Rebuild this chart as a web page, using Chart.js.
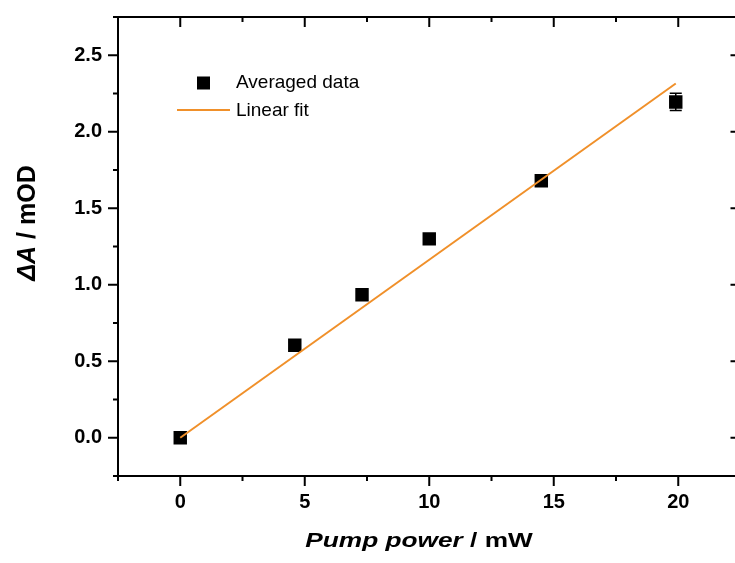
<!DOCTYPE html>
<html>
<head>
<meta charset="utf-8">
<script src="https://cdn.jsdelivr.net/npm/chart.js@4/dist/chart.umd.min.js"></script>
<style>
  html, body { margin: 0; padding: 0; overflow: hidden; background: #fff; }
  canvas { display: block; }
</style>
</head>
<body>
<canvas id="myChart" width="750" height="563" style="width:750px;height:563px"></canvas>
<script>
// averaged data (pump power in mW, delta A in mOD, error)
const power = [0, 4.6, 7.3, 10, 14.5, 19.9];
const deltaA = [0, 0.605, 0.935, 1.30, 1.68, 2.195];
const deltaAErr = [0.01, 0.02, 0.02, 0.03, 0.03, 0.056];

// linear fit line
const fitX = [0, 19.9];
const fitY = [0, 2.315];

// tick labels
const xTicks = [0, 5, 10, 15, 20];
const yTicks = [0, 0.5, 1.0, 1.5, 2.0, 2.5];

const FONT = "'Liberation Sans', Arial, sans-serif";
const ORANGE = '#f0902a';

// draw text pieces with different fonts one after another
function drawParts(ctx, parts, sx) {
    let total = 0;
    parts.forEach(p => { ctx.font = p[0]; total += ctx.measureText(p[1]).width; });
    ctx.scale(sx, 1);
    let pos = -total / 2;
    parts.forEach(p => {
        ctx.font = p[0];
        ctx.fillText(p[1], pos, 0);
        pos += ctx.measureText(p[1]).width;
    });
}

const framePlugin = {
    id: 'frame',
    beforeDatasetsDraw(chart) {
        const ctx = chart.ctx;
        const x = chart.scales.x, y = chart.scales.y;
        ctx.save();
        ctx.strokeStyle = '#000';
        ctx.lineWidth = 1.5;
        power.forEach((p, i) => {
            const px = x.getPixelForValue(p);
            const top = y.getPixelForValue(deltaA[i] + deltaAErr[i]);
            const bot = y.getPixelForValue(deltaA[i] - deltaAErr[i]);
            ctx.beginPath();
            ctx.moveTo(px, top); ctx.lineTo(px, bot);
            ctx.moveTo(px - 6, top); ctx.lineTo(px + 6, top);
            ctx.moveTo(px - 6, bot); ctx.lineTo(px + 6, bot);
            ctx.stroke();
        });
        ctx.restore();
    },
    afterDraw(chart) {
        const ctx = chart.ctx;
        const a = chart.chartArea;
        const x = chart.scales.x, y = chart.scales.y;
        ctx.save();
        ctx.strokeStyle = '#000';
        ctx.lineWidth = 2;
        ctx.strokeRect(a.left, a.top, a.right - a.left, a.bottom - a.top);

        // x ticks: outward at bottom, inward at top
        for (let v = x.min; v <= x.max + 1e-9; v += 2.5) {
            const px = x.getPixelForValue(v);
            const len = xTicks.includes(v) ? 10 : 5;
            ctx.beginPath();
            ctx.moveTo(px, a.bottom); ctx.lineTo(px, a.bottom + len);
            ctx.moveTo(px, a.top); ctx.lineTo(px, a.top + len);
            ctx.stroke();
        }
        // y ticks: outward at left, inward at right
        for (let v = y.min; v <= y.max + 1e-9; v += 0.25) {
            const py = y.getPixelForValue(v);
            const len = yTicks.includes(v) ? 10 : 5;
            ctx.beginPath();
            ctx.moveTo(a.left, py); ctx.lineTo(a.left - len, py);
            ctx.moveTo(a.right, py); ctx.lineTo(a.right - len, py);
            ctx.stroke();
        }

        // axis titles
        ctx.fillStyle = '#000';
        ctx.textBaseline = 'alphabetic';
        ctx.save();
        ctx.translate(419, 547);
        drawParts(ctx, [['italic bold 21px ' + FONT, 'Pump power'], ['bold 21px ' + FONT, ' / mW']], 1.25);
        ctx.restore();

        ctx.save();
        ctx.translate(35, 223);
        ctx.rotate(-Math.PI / 2);
        drawParts(ctx, [['italic bold 25px ' + FONT, '\u0394A'], ['bold 25px ' + FONT, ' / mOD']], 1);
        ctx.restore();

        // legend
        const ds = chart.data.datasets;
        ctx.font = '19px ' + FONT;
        ctx.textBaseline = 'middle';
        ctx.fillStyle = '#000';
        ctx.fillRect(197, 76.5, 13, 13);
        ctx.fillText(ds[0].label, 236, 83);
        ctx.strokeStyle = ORANGE;
        ctx.lineWidth = 2;
        ctx.beginPath();
        ctx.moveTo(177, 110); ctx.lineTo(230, 110);
        ctx.stroke();
        ctx.fillStyle = '#000';
        ctx.fillText(ds[1].label, 236, 111);
        ctx.restore();
    }
};

var ctx = document.getElementById('myChart').getContext('2d');

var myChart = new Chart(ctx, {
    type: 'scatter',
    data: {
        datasets: [{
            label: 'Averaged data',
            data: power.map((p, i) => ({ x: p, y: deltaA[i] })),
            pointStyle: 'rect',
            pointRadius: 9.5,
            backgroundColor: '#000',
            borderColor: '#000',
            borderWidth: 0,
            order: 1
        }, {
            label: 'Linear fit',
            type: 'line',
            data: fitX.map((p, i) => ({ x: p, y: fitY[i] })),
            borderColor: ORANGE,
            borderWidth: 2,
            pointRadius: 0,
            fill: false,
            order: 0
        }]
    },
    options: {
        responsive: false,
        animation: false,
        devicePixelRatio: 1,
        layout: { padding: { top: 17, right: 9, left: 0, bottom: 0 } },
        plugins: {
            legend: { display: false },
            tooltip: { enabled: false }
        },
        scales: {
            x: {
                type: 'linear',
                min: -2.5,
                max: 22.5,
                afterBuildTicks: axis => { axis.ticks = xTicks.map(v => ({ value: v })); },
                afterFit: axis => {
                    axis.height = 87;
                    axis.paddingLeft = 0;
                    axis.paddingRight = 0;
                },
                grid: { display: false, drawTicks: false },
                border: { display: false },
                ticks: {
                    color: '#000',
                    padding: 14,
                    maxRotation: 0,
                    font: { family: FONT, size: 20, weight: 'bold' }
                }
            },
            y: {
                type: 'linear',
                min: -0.25,
                max: 2.75,
                afterBuildTicks: axis => { axis.ticks = yTicks.map(v => ({ value: v })); },
                afterFit: axis => {
                    axis.width = 118;
                    axis.paddingTop = 0;
                    axis.paddingBottom = 0;
                },
                grid: { display: false, drawTicks: false },
                border: { display: false },
                ticks: {
                    color: '#000',
                    padding: 16,
                    font: { family: FONT, size: 20, weight: 'bold' },
                    callback: v => v.toFixed(1)
                }
            }
        }
    },
    plugins: [framePlugin]
});
</script>
</body>
</html>
